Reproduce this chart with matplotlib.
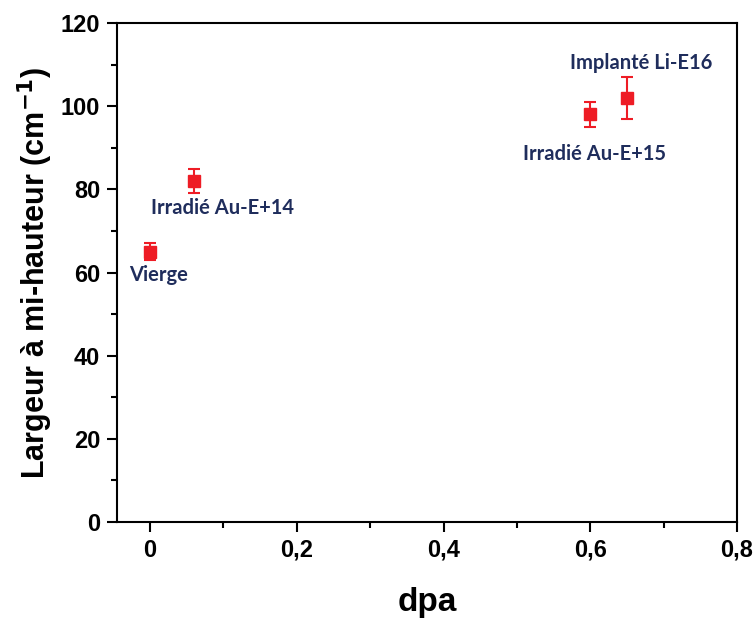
import matplotlib.pyplot as plt
from matplotlib.ticker import MultipleLocator, FuncFormatter

# données
dpa = [0.0, 0.06, 0.6, 0.65]
largeur = [65, 82, 98, 102]
erreur = [2, 3, 3, 5]
noms = ["Vierge", "Irradié Au-E+14", "Irradié Au-E+15", "Implanté Li-E16"]
# position des étiquettes (coordonnées données)
lab_x = [-0.028, 0.002, 0.508, 0.573]
lab_y = [59.5, 75.5, 88.5, 110.5]

plt.rcParams["font.family"] = ["Liberation Sans", "DejaVu Sans"]

fig = plt.figure(figsize=(7.55, 6.19), dpi=100)
ax = fig.add_axes([117 / 755, 97 / 619, 620 / 755, 499 / 619])

ax.errorbar(dpa, largeur, yerr=erreur, fmt="s", color="#ee1c25",
            markersize=8.5, capsize=4.5, elinewidth=1.5, capthick=1.5)

for x, y, t in zip(lab_x, lab_y, noms):
    ax.text(x, y, t, fontsize=14.5, fontweight="bold", color="#1f2d5c",
            family=["Lato", "DejaVu Sans"], va="center", ha="left")

ax.set_xlim(-0.045, 0.8)
ax.set_ylim(0, 120)
ax.xaxis.set_major_locator(MultipleLocator(0.2))
ax.xaxis.set_minor_locator(MultipleLocator(0.1))
ax.yaxis.set_major_locator(MultipleLocator(20))
ax.yaxis.set_minor_locator(MultipleLocator(10))
ax.xaxis.set_major_formatter(FuncFormatter(lambda v, p: "0" if abs(v) < 1e-9 else f"{v:.1f}".replace(".", ",")))

for s in ax.spines.values():
    s.set_linewidth(1.5)
ax.tick_params(which="major", direction="out", length=7, width=1.5, labelsize=17, pad=5)
ax.tick_params(which="minor", direction="out", length=4, width=1.5)
for lab in ax.get_xticklabels() + ax.get_yticklabels():
    lab.set_fontweight("bold")

ax.set_xlabel("dpa", fontsize=24, fontweight="bold", labelpad=18)
ax.set_ylabel("Largeur à mi-hauteur (cm$^{\\mathbf{-1}}$)", fontsize=22, fontweight="bold", labelpad=4)

fig.savefig("out.png", dpi=100)
